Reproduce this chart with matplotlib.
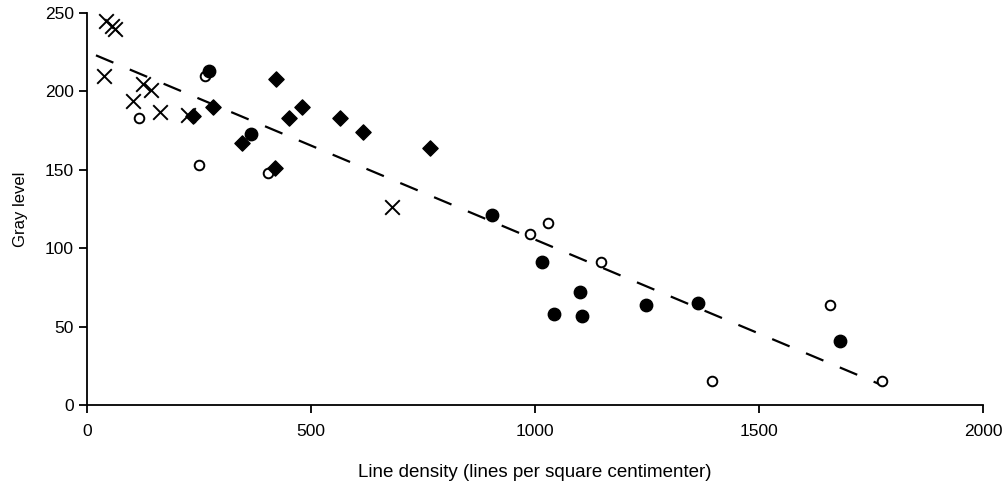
import matplotlib
matplotlib.use('Agg')
import matplotlib.pyplot as plt

plt.rcParams['font.family'] = ['Liberation Sans', 'DejaVu Sans']

# crosses
cross_x = [42, 55, 62, 39, 102, 126, 142, 164, 226, 681]
cross_y = [245, 242, 240, 210, 194, 205, 201, 187, 185, 126]

# open circles
open_x = [117, 250, 263, 403, 989, 1030, 1147, 1396, 1658, 1774]
open_y = [183, 153, 210, 148, 109, 116, 91, 15, 64, 15]

# filled circles
fill_x = [273, 365, 905, 1015, 1100, 1042, 1104, 1247, 1364, 1681]
fill_y = [213, 173, 121, 91, 72, 58, 57, 64, 65, 41]

# diamonds
dia_x = [237, 282, 345, 422, 420, 452, 481, 565, 615, 766]
dia_y = [184, 190, 167, 208, 151, 183, 190, 183, 174, 164]

# fitted line
fit_x = [20, 1780]
fit_y = [223, 12]

fig = plt.figure(figsize=(10.08, 4.83), dpi=100)
ax = fig.add_axes([87/1008, 78/483, 896/1008, 392/483])

ax.plot(fit_x, fit_y, color='k', lw=1.6, linestyle=(0, (8.5, 8)))
ax.scatter(cross_x, cross_y, marker='x', s=110, c='k', linewidths=1.4, zorder=3)
ax.scatter(open_x, open_y, marker='o', s=48, facecolors='white', edgecolors='k', linewidths=1.4, zorder=3)
ax.scatter(fill_x, fill_y, marker='o', s=80, c='k', zorder=3)
ax.scatter(dia_x, dia_y, marker='D', s=60, c='k', zorder=3)

ax.set_xlim(0, 2000)
ax.set_ylim(0, 250)
ax.set_xticks([0, 500, 1000, 1500, 2000])
ax.set_yticks([0, 50, 100, 150, 200, 250])
ax.spines['top'].set_visible(False)
ax.spines['right'].set_visible(False)
ax.spines['left'].set_linewidth(1.3)
ax.spines['bottom'].set_linewidth(1.3)
ax.tick_params(direction='out', length=6, width=1.3, labelsize=12.5)
ax.tick_params(axis='x', pad=8)
ax.set_xlabel('Line density (lines per square centimenter)', fontsize=13.5, labelpad=18)
ax.set_ylabel('Gray level', fontsize=12, labelpad=12)

fig.savefig('out.png', dpi=100)
